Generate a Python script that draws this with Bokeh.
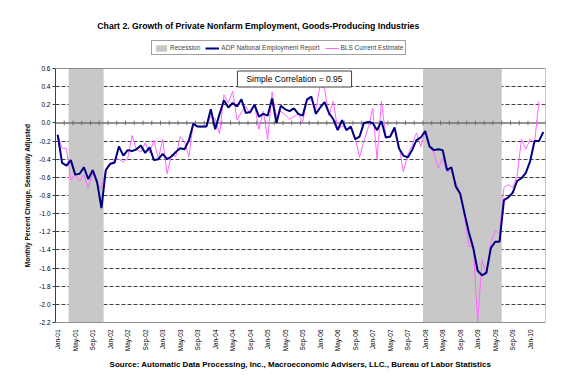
import math
import pandas as pd
from bokeh.plotting import figure
from bokeh.models import (Range1d, FixedTicker, Label, Legend, LegendItem,
                          PrintfTickFormatter)
from bokeh.core.properties import value
from bokeh.embed import file_html
from bokeh.resources import INLINE

# ---------------- data ----------------
months = [d.strftime("%b-%y") for d in pd.date_range("2001-01-01", "2010-04-01", freq="MS")]

adp = [-0.13, -0.44, -0.47, -0.41, -0.57, -0.56, -0.49, -0.62, -0.52, -0.65,
       -0.94, -0.52, -0.45, -0.44, -0.26, -0.36, -0.30, -0.31, -0.29, -0.25,
       -0.33, -0.27, -0.41, -0.40, -0.34, -0.40, -0.37, -0.32, -0.28, -0.29,
       -0.19, -0.01, -0.04, -0.04, -0.04, 0.15, -0.07, 0.10, 0.25, 0.17,
       0.22, 0.18, 0.26, 0.11, 0.12, 0.20, 0.07, 0.10, 0.08, 0.27,
       0.00, 0.19, 0.15, 0.13, 0.16, 0.10, 0.08, 0.26, 0.29, 0.10,
       0.17, 0.23, 0.11, 0.04, -0.08, 0.03, -0.08, -0.04, -0.18, -0.15,
       0.00, 0.01, 0.00, -0.08, 0.02, -0.16, -0.15, -0.05, -0.28, -0.36,
       -0.38, -0.30, -0.19, -0.16, -0.09, -0.26, -0.30, -0.29, -0.30, -0.52,
       -0.49, -0.70, -0.78, -1.00, -1.21, -1.38, -1.63, -1.68, -1.65, -1.38,
       -1.31, -1.31, -0.85, -0.82, -0.77, -0.64, -0.61, -0.55, -0.42, -0.20,
       -0.20, -0.10]

bls = [-0.13, -0.28, -0.28, -0.63, -0.57, -0.64, -0.57, -0.72, -0.55, -0.68,
       -0.72, -0.51, -0.47, -0.40, -0.40, -0.43, -0.39, -0.14, -0.29, -0.32,
       -0.22, -0.33, -0.19, -0.40, -0.18, -0.56, -0.35, -0.37, -0.15, -0.21,
       -0.37, 0.00, -0.04, -0.05, -0.04, 0.07, 0.05, -0.12, 0.31, 0.22,
       0.35, 0.03, 0.12, 0.18, 0.10, 0.20, -0.07, 0.13, -0.18, 0.34,
       0.07, 0.13, 0.09, 0.04, 0.07, 0.10, 0.01, 0.26, 0.25, 0.15,
       0.41, 0.38, 0.08, 0.24, -0.08, -0.03, -0.08, -0.05, -0.16, -0.38,
       -0.20, -0.05, 0.16, -0.40, 0.24, -0.15, -0.16, -0.07, -0.24, -0.54,
       -0.35, -0.25, -0.11, -0.26, -0.09, -0.27, -0.33, -0.50, -0.39, -0.54,
       -0.53, -0.66, -0.77, -1.05, -1.36, -1.36, -2.19, -1.51, -1.67, -1.32,
       -1.19, -1.21, -0.71, -0.68, -0.71, -0.59, -0.18, -0.29, -0.18, -0.22,
       0.24]

recession_start = ["Apr-01", "Jan-08"]
recession_end = ["Nov-01", "Jun-09"]

y_ticks = [0.6, 0.4, 0.2, 0.0, -0.2, -0.4, -0.6, -0.8, -1.0, -1.2,
           -1.4, -1.6, -1.8, -2.0, -2.2]
label_step = 4
tick_step = 2

title_text = "Chart 2.  Growth of Private Nonfarm Employment, Goods-Producing Industries"
source_text = ("Source: Automatic Data Processing, Inc., Macroeconomic Advisers, LLC., "
               "Bureau of Labor Statistics")
corr_text = "Simple Correlation = 0.95"
y_title = "Monthly Percent Change, Seasonally Adjusted"

# ---------------- layout ----------------
FONT = "Liberation Sans"
y_lo, y_hi = min(y_ticks), max(y_ticks)
n = len(months)

plot_h = 254            # pixel height of the data area
head_h = 57             # frame space above the data area (title + legend)
foot_h = 57             # frame space below the data area (month labels + source)
px_per_unit = plot_h / (y_hi - y_lo)
y_top = y_hi + head_h / px_per_unit
y_bottom = y_lo - foot_h / px_per_unit

p = figure(width=575, height=386, output_backend="svg", toolbar_location=None,
           x_range=Range1d(-0.5, n - 0.5), y_range=Range1d(y_bottom, y_top),
           min_border_left=55, min_border_right=30, min_border_top=11,
           min_border_bottom=7)
p.background_fill_color = "white"
p.border_fill_color = "white"
p.outline_line_color = None

# recession bars
rs = [months.index(m) - 0.5 for m in recession_start]
re_ = [months.index(m) + 0.5 for m in recession_end]
rec = p.quad(left=rs, right=re_, bottom=[y_lo] * len(rs), top=[y_hi] * len(rs),
             fill_color="#C8C8C8", line_color=None)

# zero line with tick marks
p.segment(x0=[-0.5], y0=[0], x1=[n - 0.5], y1=[0], line_color="#707070", line_width=1.5)
tick_x = [i + 0.5 for i in range(1, n, tick_step)]
p.segment(x0=tick_x, y0=[-0.025] * len(tick_x), x1=tick_x, y1=[0.025] * len(tick_x),
          line_color="#707070", line_width=1)

# lines
bls_r = p.line(list(range(len(bls))), bls, line_color="#FF66FF", line_width=1)
adp_r = p.line(list(range(len(adp))), adp, line_color="#000080", line_width=2)

# plot-area border
p.quad(left=[-0.5], right=[n - 0.5], bottom=[y_lo], top=[y_hi],
       fill_color=None, line_color="#909090", line_width=1)

# grid
p.xgrid.visible = False
p.ygrid.ticker = FixedTicker(ticks=[t for t in y_ticks if t not in (0.0, y_lo, y_hi)])
p.ygrid.grid_line_color = "#404040"
p.ygrid.grid_line_dash = "4 2"
p.ygrid.grid_line_width = 1

# y axis
p.yaxis.ticker = FixedTicker(ticks=y_ticks)
p.yaxis.bounds = (y_lo, y_hi)
p.yaxis.formatter = PrintfTickFormatter(format="%.1f")
p.yaxis.major_label_text_font = FONT
p.yaxis.major_label_text_font_size = "6.5px"
p.yaxis.major_label_text_color = "black"
p.yaxis.axis_line_color = "#404040"
p.yaxis.major_tick_line_color = "#404040"
p.yaxis.major_tick_out = 3
p.yaxis.major_tick_in = 0
p.yaxis.minor_tick_line_color = None
p.yaxis.major_label_standoff = 2
p.yaxis.axis_label = y_title
p.yaxis.axis_label_text_font = FONT
p.yaxis.axis_label_text_font_size = "6.5px"
p.yaxis.axis_label_text_font_style = "bold"
p.yaxis.axis_label_text_color = "black"
p.yaxis.axis_label_standoff = 5

# x axis: category labels drawn as rotated text under the data area
p.xaxis.visible = False
lab_idx = list(range(0, n, label_step))
p.text(x=lab_idx, y=[y_lo] * len(lab_idx), text=[months[i] for i in lab_idx],
       angle=math.pi / 2, text_align="right", text_baseline="middle", y_offset=7,
       text_font=value(FONT), text_font_size=value("6.5px"), text_color="black")

# legend (inside the frame, in the head area; location gives its bottom-left)
legend = Legend(items=[LegendItem(label="Recession", renderers=[rec]),
                       LegendItem(label="ADP National Employment Report", renderers=[adp_r]),
                       LegendItem(label="BLS Current Estimate", renderers=[bls_r])],
                location=(96, foot_h + plot_h + 13), orientation="horizontal")
legend.label_text_font = FONT
legend.label_text_font_size = "6.5px"
legend.label_height = 9
legend.glyph_height = 8
legend.glyph_width = 14
legend.label_standoff = 2
legend.spacing = 5
legend.padding = 2
legend.margin = 0
legend.border_line_color = "#404040"
legend.border_line_width = 1
legend.background_fill_color = "white"
legend.background_fill_alpha = 1
p.add_layout(legend)

# title
p.add_layout(Label(x=204, y=foot_h + plot_h + 43, x_units="screen", y_units="screen",
                   text=title_text, text_align="center", text_baseline="middle",
                   text_font=FONT, text_font_size="8.7px", text_font_style="bold",
                   text_color="black"))

# correlation box
p.add_layout(Label(x=239, y=foot_h + plot_h - 10.5, x_units="screen", y_units="screen",
                   text=corr_text, text_align="center", text_baseline="middle",
                   text_font=FONT, text_font_size="8.5px", text_color="black",
                   border_line_color="#404040", background_fill_color="white",
                   padding=(9, 3)))

# source
p.add_layout(Label(x=245, y=foot_h - 42, x_units="screen", y_units="screen",
                   text=source_text, text_align="center", text_baseline="middle",
                   text_font=FONT, text_font_size="8px", text_font_style="bold",
                   text_color="black"))

open("out.html", "w").write(file_html(p, INLINE))
